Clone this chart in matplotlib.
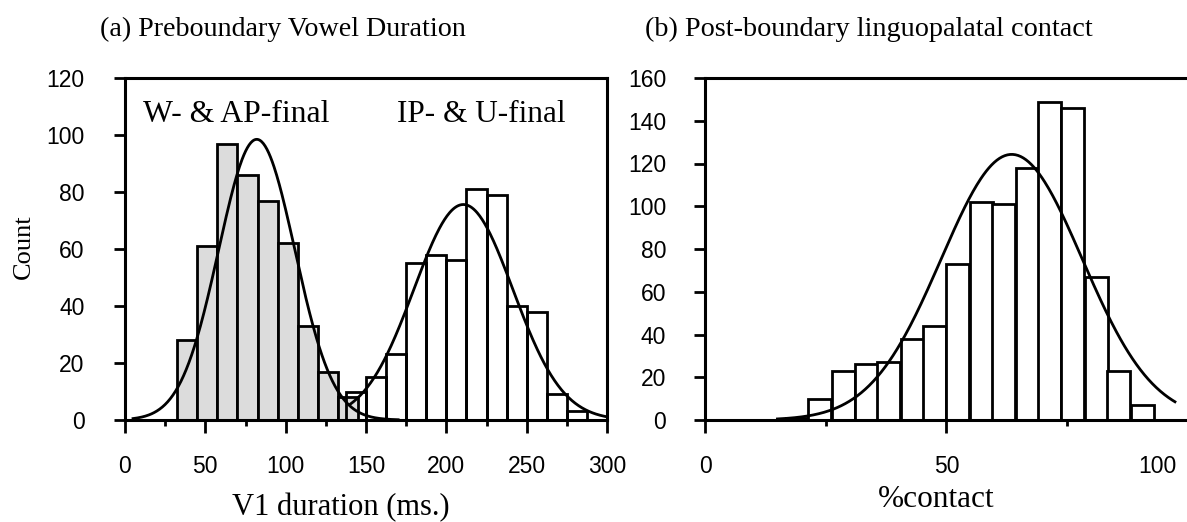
import numpy as np
import matplotlib.pyplot as plt
import matplotlib.transforms as mtransforms
from matplotlib.ticker import MultipleLocator

# ============================================================================
# DATA
# ============================================================================

# (a) V1 duration, bins of 12.5 ms (left edges)
gray_bins = [32.5, 45, 57.5, 70, 82.5, 95, 107.5, 120, 132.5]
gray_counts = [28, 61, 97, 86, 77, 62, 33, 17, 8]
white_bins = [137.5, 150, 162.5, 175, 187.5, 200, 212.5, 225, 237.5, 250, 262.5, 275]
white_counts = [10, 15, 23, 55, 58, 56, 81, 79, 40, 38, 9, 3]
BIN_A = 12.5

# fitted normal curves (mean, sd, n)
gray_fit = (82.0, 23.7, 468)
white_fit = (210.6, 30.8, 467)

# (b) %contact, bins of 100/21 %
contact_bins = [16.7, 21.4, 26.2, 31.0, 35.7, 40.5, 45.2, 50.0,
                54.8, 59.5, 64.3, 69.0, 73.8, 78.6, 83.3, 88.1]
contact_counts = [1, 10, 23, 26, 27, 38, 44, 73, 102, 101, 118, 149, 146, 67, 23, 7]
BIN_B = 100 / 21
contact_fit = (63.5, 14.6, 955)

xticks_a = [0, 50, 100, 150, 200, 250, 300]
xticks_b = [0, 50, 100]

W, H = 1187, 522
SERIF = 'Liberation Serif'
plt.rcParams['font.family'] = 'Liberation Sans'


def normal_curve(fit, width, x):
    mu, sd, n = fit
    return n * width * np.exp(-0.5 * ((x - mu) / sd) ** 2) / (sd * np.sqrt(2 * np.pi))


def style_axes(ax, ypad):
    for s in ax.spines.values():
        s.set_linewidth(2.2)
    ax.tick_params(axis='y', which='major', direction='out', length=8, width=2,
                   labelsize=16.5, pad=ypad)
    ax.tick_params(axis='x', which='major', direction='out', length=9, width=2,
                   labelsize=16.5, pad=16)
    ax.tick_params(axis='x', which='minor', direction='out', length=4.5, width=2)


fig = plt.figure(figsize=(W / 100, H / 100), dpi=100)

# ---------------------------------------------------------------- panel (a)
ax1 = fig.add_axes([125 / W, (H - 420) / H, (607 - 125) / W, (420 - 78) / H])
ax1.bar(gray_bins, gray_counts, width=BIN_A, align='edge', color='#dcdcdc',
        edgecolor='black', linewidth=2, zorder=2)
ax1.bar(white_bins, white_counts, width=BIN_A, align='edge', color='none',
        edgecolor='black', linewidth=2, zorder=3)
xa = np.linspace(5, 170, 300)
ax1.plot(xa, normal_curve(gray_fit, BIN_A, xa), color='black', lw=2, zorder=4)
xb = np.linspace(140, 300, 300)
ax1.plot(xb, normal_curve(white_fit, BIN_A, xb), color='black', lw=2, zorder=4)

ax1.set_xlim(0, 300)
ax1.set_ylim(0, 120)
ax1.set_xticks(xticks_a)
ax1.xaxis.set_minor_locator(MultipleLocator(25))
ax1.yaxis.set_major_locator(MultipleLocator(20))
style_axes(ax1, 21)

ax1.text(11.4, 104.7, 'W- & AP-final', fontsize=22.8, fontfamily=SERIF,
         ha='left', va='baseline')
ax1.text(169, 104.7, 'IP- & U-final', fontsize=22.5, fontfamily=SERIF,
         ha='left', va='baseline')

# ---------------------------------------------------------------- panel (b)
ax2 = fig.add_axes([705 / W, (H - 420) / H, (1188 - 705) / W, (420 - 78) / H])
ax2.bar(contact_bins, contact_counts, width=BIN_B, align='edge', color='white',
        edgecolor='black', linewidth=2, zorder=2)
xc = np.linspace(15, 97.3, 300)
ax2.plot(xc, normal_curve(contact_fit, BIN_B, xc), color='black', lw=2, zorder=4)

ax2.set_xlim(0, 100)
ax2.set_ylim(0, 160)
ax2.set_xticks(xticks_b)
ax2.xaxis.set_minor_locator(MultipleLocator(25))
ax2.yaxis.set_major_locator(MultipleLocator(20))
ax2.spines['right'].set_visible(False)
style_axes(ax2, 20)

# last tick label is pulled back inside the image
shift = mtransforms.ScaledTranslation(-31 / 100, 0, fig.dpi_scale_trans)
lbl = ax2.xaxis.get_majorticklabels()[2]
lbl.set_transform(lbl.get_transform() + shift)

# ---------------------------------------------------------------- texts
fig.text(100 / W, (H - 36) / H, '(a) Preboundary Vowel Duration', fontsize=20.2,
         fontfamily=SERIF, ha='left', va='baseline')
fig.text(645 / W, (H - 36) / H, '(b) Post-boundary linguopalatal contact', fontsize=20.3,
         fontfamily=SERIF, ha='left', va='baseline')
fig.text(24 / W, (H - 247) / H, 'Count', fontsize=19, fontfamily=SERIF,
         rotation=90, ha='center', va='center')
fig.text(341 / W, (H - 515) / H, 'V1 duration (ms.)', fontsize=22, fontfamily=SERIF,
         ha='center', va='baseline')
fig.text(936 / W, (H - 506.7) / H, '%contact', fontsize=22.5, fontfamily=SERIF,
         ha='center', va='baseline')

fig.savefig('out.png', dpi=100)
